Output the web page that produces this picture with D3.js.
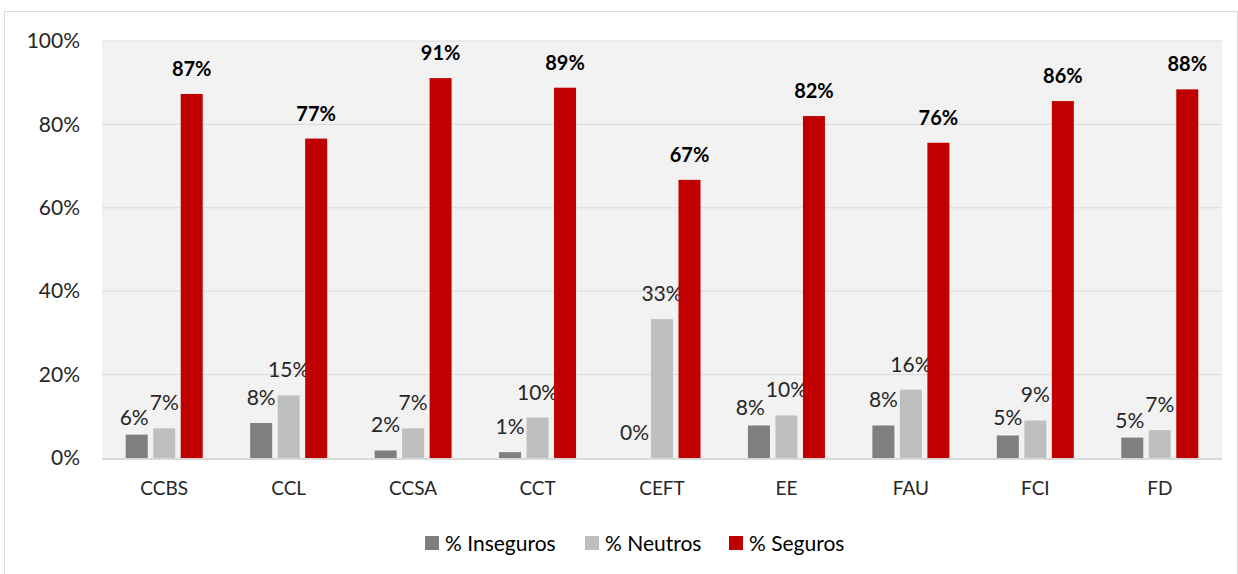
<!DOCTYPE html>
<html><head><meta charset="utf-8">
<script src="https://cdn.jsdelivr.net/npm/d3@7"></script>
<style>
html,body{margin:0;padding:0;background:#fff;}
svg{display:block;font-family:Lato,"Open Sans",sans-serif;}
</style></head>
<body>
<svg id="chart" width="1238" height="574"></svg>
<script>
const categories = ["CCBS","CCL","CCSA","CCT","CEFT","EE","FAU","FCI","FD"];
const inseguros = [5.6, 8.4, 1.8, 1.4, 0, 7.8, 7.8, 5.4, 4.9];
const neutros   = [7.1, 15.0, 7.1, 9.7, 33.3, 10.2, 16.4, 9.0, 6.7];
const seguros   = [87.3, 76.6, 91.1, 88.8, 66.7, 82.0, 75.6, 85.6, 88.4];
const seriesNames = ["% Inseguros","% Neutros","% Seguros"];
const yTicks = [0,20,40,60,80,100];

const colors = ["#7f7f7f","#bfbfbf","#c00000"];
const series = [inseguros, neutros, seguros];

const svg = d3.select("#chart");
const W = 1238, H = 574;
const m = {left:102, right:16, top:41, bottom:116};
const pw = W - m.left - m.right, ph = H - m.top - m.bottom;

// outer frame
svg.append("rect").attr("x",4.5).attr("y",11.5).attr("width",W-5).attr("height",H)
  .attr("fill","#fff").attr("stroke","#d9d9d9").attr("stroke-width",1);

const g = svg.append("g").attr("transform",`translate(${m.left},${m.top})`);
const x = d3.scaleBand().domain(categories).range([0,pw]).padding(0);
const y = d3.scaleLinear().domain([0,100]).range([ph,0]);

g.append("rect").attr("width",pw).attr("height",ph).attr("fill","#f2f2f2");

// gridlines
g.selectAll(".grid").data(yTicks.filter(d=>d>0)).join("line")
  .attr("x1",0).attr("x2",pw).attr("y1",d=>y(d)).attr("y2",d=>y(d))
  .attr("stroke","#d9d9d9").attr("stroke-width",1);

// y axis labels
const yAxis = d3.axisLeft(y).tickValues(yTicks).tickFormat(d=>d+"%").tickSize(0).tickPadding(22);
const ya = g.append("g").call(yAxis);
ya.select(".domain").remove();
ya.selectAll("text").attr("font-size",21).attr("fill","#262626").attr("font-family","Lato,sans-serif");

const barW = 22, step = 27.5;
const labelSel = [];

series.forEach((vals,si)=>{
  const cx = i => x(categories[i]) + x.bandwidth()/2 + (si-1)*step;
  g.selectAll(".b"+si).data(vals).join("rect")
    .attr("x",(d,i)=>cx(i)-barW/2).attr("width",barW)
    .attr("y",d=>y(d)).attr("height",d=>ph-y(d))
    .attr("fill",colors[si]);
  labelSel[si] = g.selectAll(".l"+si).data(vals).join("text")
    .attr("x",(d,i)=>cx(i)).attr("y",d=>y(d)-18)
    .attr("text-anchor","middle")
    .attr("font-size", si===2?20:21)
    .attr("font-weight", si===2?700:400)
    .attr("fill", si===2?"#000":"#262626")
    .text(d=>Math.round(d)+"%");
});

// simple collision avoidance between the Inseguros and Neutros labels
const n0 = labelSel[0].nodes(), n1 = labelSel[1].nodes();
const tol = 4;
const overlaps = (a,b)=> a.x < b.x+b.width && a.x+a.width > b.x &&
  a.y + tol < b.y+b.height && a.y+a.height > b.y + tol;
n0.forEach((node,i)=>{
  const other = n1[i].getBBox();
  let bb = node.getBBox();
  if (overlaps(bb, other)) {
    const t = d3.select(node);
    t.attr("y", +t.attr("y") + 8);
    bb = node.getBBox();
    if (overlaps(bb, other)) {
      const dx = bb.x + bb.width - other.x + 1;
      t.attr("x", +t.attr("x") - dx);
    }
  }
});

// x axis line
g.append("line").attr("x1",0).attr("x2",pw).attr("y1",ph+1).attr("y2",ph+1)
  .attr("stroke","#d9d9d9").attr("stroke-width",2);

// x labels
const xAxis = d3.axisBottom(x).tickSize(0).tickPadding(24);
const xa = g.append("g").attr("transform",`translate(0,${ph})`).call(xAxis);
xa.select(".domain").remove();
xa.selectAll("text").attr("font-size",19).attr("fill","#262626").attr("font-family","Lato,sans-serif");

// legend
const legX = [425, 585, 729];
const leg = svg.append("g").attr("transform","translate(0,543)");
seriesNames.forEach((n,i)=>{
  leg.append("rect").attr("x",legX[i]).attr("y",-7).attr("width",14).attr("height",14).attr("fill",colors[i]);
  leg.append("text").attr("x",legX[i]+20).attr("y",7.5).attr("font-size",21).attr("fill","#000").text(n);
});
</script>
</body></html>
